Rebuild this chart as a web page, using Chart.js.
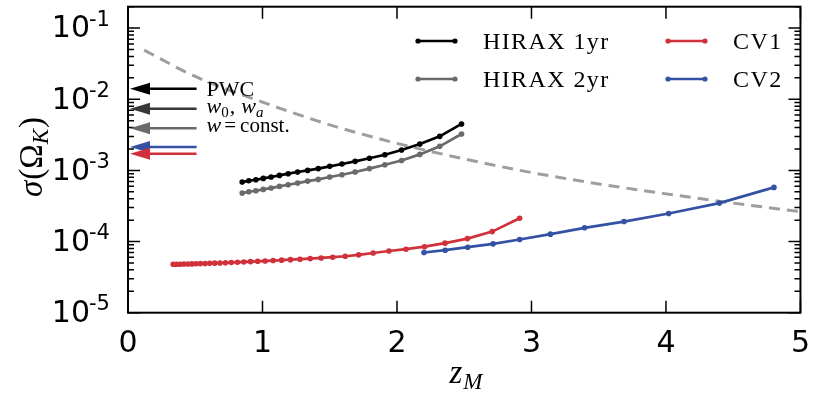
<!DOCTYPE html>
<html>
<head>
<meta charset="utf-8">
<script src="https://cdn.jsdelivr.net/npm/chart.js@4.4.1/dist/chart.umd.min.js"></script>
<style>
  html, body { margin: 0; padding: 0; background: #fff; }
  #wrap { width: 816px; height: 396px; }
</style>
</head>
<body>
<div id="wrap"><canvas id="c" width="816" height="396"></canvas></div>
<script>
// ---- data: redshift z_M and forecast sigma(Omega_K) ----
const hiraxZ = [0.849, 0.898, 0.951, 1.006, 1.064, 1.126, 1.191, 1.261, 1.336, 1.415,
                1.500, 1.591, 1.689, 1.795, 1.910, 2.034, 2.170, 2.318, 2.480];
const hirax1yr = [6.85e-4, 7.16e-4, 7.40e-4, 7.72e-4, 8.07e-4, 8.51e-4, 8.99e-4, 9.49e-4, 1.00e-3, 1.06e-3,
                  1.14e-3, 1.23e-3, 1.34e-3, 1.48e-3, 1.66e-3, 1.94e-3, 2.35e-3, 3.01e-3, 4.50e-3];
const hirax2yr = [4.80e-4, 5.01e-4, 5.18e-4, 5.41e-4, 5.65e-4, 5.96e-4, 6.29e-4, 6.64e-4, 7.08e-4, 7.48e-4,
                  8.07e-4, 8.69e-4, 9.49e-4, 1.06e-3, 1.20e-3, 1.38e-3, 1.68e-3, 2.18e-3, 3.25e-3];

const cv1Z = [0.336, 0.361, 0.388, 0.416, 0.445, 0.475, 0.506, 0.538, 0.573, 0.608, 0.645, 0.684,
              0.725, 0.768, 0.814, 0.861, 0.911, 0.964, 1.020, 1.079, 1.142, 1.208, 1.279, 1.355,
              1.436, 1.522, 1.615, 1.715, 1.823, 1.940, 2.067, 2.205, 2.357, 2.524, 2.708, 2.912];
const cv1 = [4.80e-5, 4.80e-5, 4.80e-5, 4.83e-5, 4.84e-5, 4.85e-5, 4.87e-5, 4.90e-5, 4.92e-5, 4.94e-5,
             4.97e-5, 5.00e-5, 5.04e-5, 5.08e-5, 5.12e-5, 5.17e-5, 5.22e-5, 5.28e-5, 5.34e-5, 5.41e-5,
             5.48e-5, 5.57e-5, 5.65e-5, 5.76e-5, 5.88e-5, 6.03e-5, 6.22e-5, 6.50e-5, 6.90e-5, 7.36e-5,
             7.81e-5, 8.47e-5, 9.50e-5, 1.10e-4, 1.38e-4, 2.13e-4];

const cv2Z = [2.201, 2.358, 2.526, 2.715, 2.912, 3.141, 3.395, 3.688, 4.020, 4.397, 4.803];
const cv2 = [7.01e-5, 7.56e-5, 8.33e-5, 9.28e-5, 1.07e-4, 1.27e-4, 1.56e-4, 1.91e-4, 2.48e-4, 3.47e-4, 5.77e-4];

// dashed reference curve
const refZ = [0.12, 0.5, 1.0, 1.5, 2.0, 2.5, 3.0, 3.5, 4.0, 4.5, 5.0];
const refSigma = [0.049, 0.0209, 9.12e-3, 4.37e-3, 2.40e-3, 1.45e-3, 9.33e-4, 6.46e-4, 4.68e-4, 3.47e-4, 2.63e-4];

// current constraints marked by arrows on the left axis
const arrowLabels = ['PWC', 'w0,wa', 'w=const.', 'CV2', 'CV1'];
const arrowSigma = [1.40e-2, 7.33e-3, 3.91e-3, 2.14e-3, 1.72e-3];

// axis ticks
const xTicks = [0, 1, 2, 3, 4, 5];
const yDecades = [-5, -4, -3, -2, -1];

const RED = '#d0313b';
const BLUE = '#3551a4';
const arrowColors = ['#000000', '#383838', '#6a6a6a', BLUE, RED];

function pts(xs, ys) { return xs.map((v, i) => ({ x: v, y: ys[i] })); }

function series(label, xs, ys, color) {
  return {
    label, data: pts(xs, ys), borderColor: color, backgroundColor: color,
    borderWidth: 2.7, pointRadius: 2.8, pointHoverRadius: 2.8, pointBorderWidth: 0,
    tension: 0, fill: false
  };
}

const datasets = [
  series('HIRAX 1yr', hiraxZ, hirax1yr, '#000000'),
  series('HIRAX 2yr', hiraxZ, hirax2yr, '#6a6a6a'),
  series('CV1', cv1Z, cv1, RED),
  series('CV2', cv2Z, cv2, BLUE),
  {
    label: 'reference', data: pts(refZ, refSigma), borderColor: '#9e9e9e',
    borderWidth: 3, borderDash: [11, 7], pointRadius: 0, cubicInterpolationMode: 'monotone', fill: false
  }
];

// draw a sequence of text runs: [text, font, dy, gapAfter]
function runs(ctx, x, y, parts) {
  let cx = x;
  parts.forEach(p => {
    ctx.font = p[1];
    ctx.fillText(p[0], cx, y + (p[2] || 0));
    cx += ctx.measureText(p[0]).width + (p[3] || 0);
  });
  return cx - x;
}
function runsWidth(ctx, parts) {
  let w = 0;
  parts.forEach(p => { ctx.font = p[1]; w += ctx.measureText(p[0]).width + (p[3] || 0); });
  return w;
}

const decorations = {
  id: 'decorations',
  afterDraw(chart) {
    const { ctx, chartArea: a, scales } = chart;
    const xs = scales.x, ys = scales.y;
    ctx.save();

    // frame
    ctx.strokeStyle = '#000';
    ctx.lineWidth = 2;
    ctx.strokeRect(a.left, a.top, a.right - a.left, a.bottom - a.top);

    // inward ticks
    ctx.lineWidth = 1.5;
    ctx.beginPath();
    xTicks.forEach(v => {
      const px = xs.getPixelForValue(v);
      ctx.moveTo(px, a.bottom); ctx.lineTo(px, a.bottom - 12);
      ctx.moveTo(px, a.top); ctx.lineTo(px, a.top + 12);
    });
    yDecades.forEach(k => {
      const py = ys.getPixelForValue(Math.pow(10, k));
      ctx.moveTo(a.left, py); ctx.lineTo(a.left + 12, py);
      ctx.moveTo(a.right, py); ctx.lineTo(a.right - 12, py);
      for (let m = 2; m <= 9; m++) {
        const v = m * Math.pow(10, k);
        if (v > ys.max * 1.0001) break;
        const q = ys.getPixelForValue(v);
        ctx.moveTo(a.left, q); ctx.lineTo(a.left + 6, q);
        ctx.moveTo(a.right, q); ctx.lineTo(a.right - 6, q);
      }
    });
    ctx.stroke();

    // y tick labels 10^k
    ctx.fillStyle = '#000';
    ctx.textBaseline = 'alphabetic';
    yDecades.forEach(k => {
      const py = ys.getPixelForValue(Math.pow(10, k));
      ctx.textAlign = 'right';
      ctx.font = '30px "DejaVu Sans"';
      ctx.fillText('10', 90, py + 9.3);
      ctx.textAlign = 'left';
      ctx.font = '21px "DejaVu Sans"';
      ctx.fillText('-' + (-k), 89, py - 2.4);
    });

    // axis titles
    ctx.textAlign = 'left';
    const serif = '"Liberation Serif", "DejaVu Serif", serif';
    const yTitle = [
      ['\u03C3', 'italic 33px ' + serif, 0, 1],
      ['(', '33px ' + serif, 0, 0],
      ['\u03A9', '33px ' + serif, 0, 0],
      ['K', 'italic 23px ' + serif, 6, 1],
      [')', '33px ' + serif, 0, 0]
    ];
    ctx.save();
    ctx.translate(30, 157);
    ctx.rotate(-Math.PI / 2);
    const tw = runsWidth(ctx, yTitle);
    runs(ctx, -tw / 2, 11.7, yTitle);
    ctx.restore();

    const xTitle = [
      ['z', 'italic 33px ' + serif, 0, 1],
      ['M', 'italic 23px ' + serif, 6, 0]
    ];
    const xw = runsWidth(ctx, xTitle);
    runs(ctx, 466 - xw / 2, 383, xTitle);

    // arrows on the left axis
    const tipX = xs.getPixelForValue(0.015);
    const tailX = xs.getPixelForValue(0.51);
    arrowSigma.forEach((v, i) => {
      const py = ys.getPixelForValue(v);
      ctx.strokeStyle = arrowColors[i];
      ctx.fillStyle = arrowColors[i];
      ctx.lineWidth = 2.5;
      ctx.beginPath();
      ctx.moveTo(tailX, py); ctx.lineTo(tipX + 14, py);
      ctx.stroke();
      ctx.beginPath();
      ctx.moveTo(tipX, py);
      ctx.lineTo(tipX + 20, py - 6);
      ctx.lineTo(tipX + 20, py + 6);
      ctx.closePath();
      ctx.fill();
    });

    // arrow labels
    ctx.fillStyle = '#000';
    const lx = tailX + 10;
    const yP = ys.getPixelForValue(arrowSigma[0]);
    ctx.font = '22px ' + serif;
    ctx.fillText(arrowLabels[0], lx, yP + 7.3);
    const yW = ys.getPixelForValue(arrowSigma[1]);
    runs(ctx, lx, yW + 4, [
      ['w', 'italic 22px ' + serif, 0, 0],
      ['0', '15px ' + serif, 4, 1],
      [',', '22px ' + serif, 0, 6],
      ['w', 'italic 22px ' + serif, 0, 0],
      ['a', 'italic 15px ' + serif, 4, 0]
    ]);
    const yC = ys.getPixelForValue(arrowSigma[2]);
    runs(ctx, lx, yC + 4, [
      ['w', 'italic 22px ' + serif, 0, 3],
      ['=', '21px ' + serif, 0, 4],
      ['const.', '21px ' + serif, 0, 0]
    ]);

    // legend
    const spots = [[418, 41], [418, 79], [668, 41], [668, 79]];
    for (let i = 0; i < 4; i++) {
      const ds = chart.data.datasets[i];
      const [sx, sy] = spots[i];
      ctx.strokeStyle = ds.borderColor;
      ctx.fillStyle = ds.borderColor;
      ctx.lineWidth = 2.5;
      ctx.beginPath();
      ctx.moveTo(sx, sy); ctx.lineTo(sx + 37, sy);
      ctx.stroke();
      [sx, sx + 37].forEach(px => {
        ctx.beginPath(); ctx.arc(px, sy, 2.6, 0, Math.PI * 2); ctx.fill();
      });
      ctx.fillStyle = '#000';
      ctx.font = '24px ' + serif;
      if ('letterSpacing' in ctx) ctx.letterSpacing = '1.4px';
      ctx.fillText(ds.label, sx + 65, sy + 8.3);
      if ('letterSpacing' in ctx) ctx.letterSpacing = '0px';
    }
    ctx.restore();
  }
};

new Chart(document.getElementById('c'), {
  type: 'line',
  data: { datasets },
  options: {
    responsive: false,
    devicePixelRatio: 1,
    animation: false,
    layout: { padding: { top: 6.7, right: 11, left: 0, bottom: 0 } },
    plugins: { legend: { display: false }, tooltip: { enabled: false } },
    scales: {
      x: {
        type: 'linear', min: 0, max: 5,
        grid: { display: false }, border: { display: false },
        ticks: {
          stepSize: 1, maxRotation: 0, padding: 6, color: '#000',
          font: { family: 'DejaVu Sans', size: 30 }
        },
        afterFit(s) { s.height = 83.3; }
      },
      y: {
        type: 'logarithmic', min: 1e-5, max: 0.2,
        grid: { display: false }, border: { display: false },
        ticks: { display: false },
        afterFit(s) { s.width = 128; }
      }
    }
  },
  plugins: [decorations]
});
</script>
</body>
</html>
